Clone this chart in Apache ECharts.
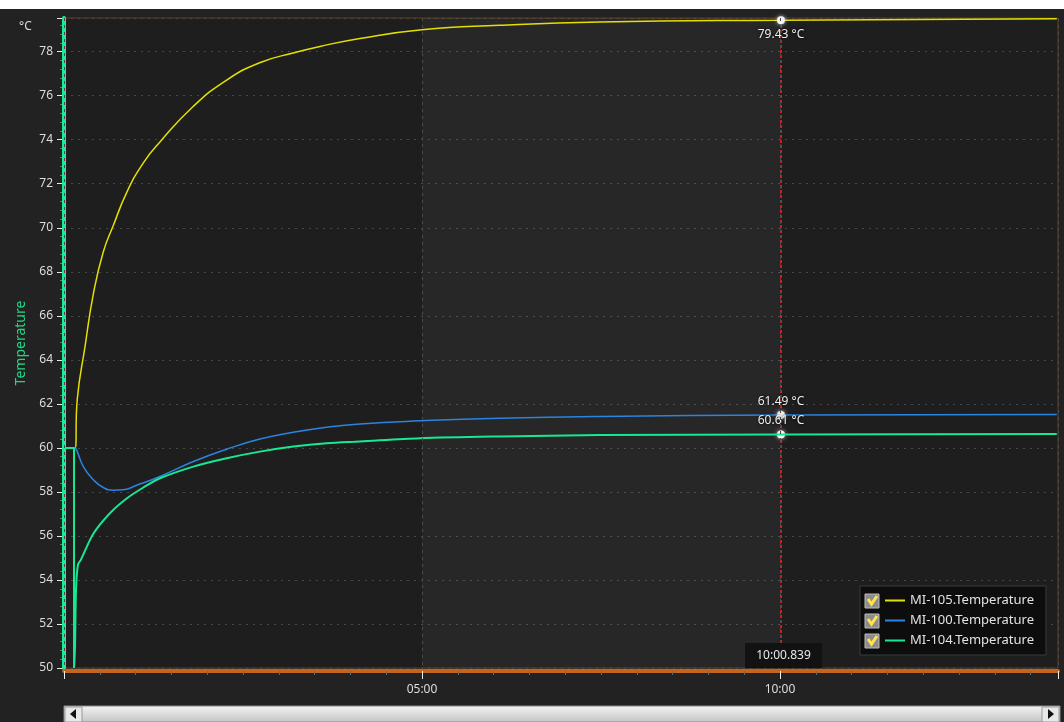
<!DOCTYPE html>
<html>
<head>
<meta charset="utf-8">
<script src="https://cdn.jsdelivr.net/npm/echarts@6/dist/echarts.min.js"></script>
<style>
  html, body { margin: 0; padding: 0; background: #ffffff; }
  #chart { width: 1064px; height: 722px; }
</style>
</head>
<body>
<div id="chart"></div>
<script>
// time in seconds, temperature in °C
var names = ["MI-105.Temperature", "MI-100.Temperature", "MI-104.Temperature"];

var yellowTime = [0, 9.2, 11.1, 17.6, 24.6, 32.9, 41.3, 52.5, 66.5, 80.4, 108, 136, 164, 192, 214.5, 248, 300, 365, 449, 600, 832];
var yellowTemp = [60, 60, 62.2, 64.6, 67.0, 68.9, 70.1, 71.6, 72.95, 73.9, 75.5, 76.7, 77.5, 77.94, 78.24, 78.6, 79.0, 79.2, 79.35, 79.43, 79.5];

var blueTime = [0, 9.2, 10.6, 16.2, 24.6, 32.9, 41.3, 49.7, 60.9, 80.4, 108.4, 136.3, 164.2, 191.9, 220.1, 248, 298.3, 365, 449, 600, 832];
var blueTemp = [60, 60, 59.9, 59.15, 58.55, 58.2, 58.08, 58.1, 58.3, 58.7, 59.38, 59.94, 60.4, 60.71, 60.94, 61.09, 61.23, 61.35, 61.43, 61.49, 61.52];

var greenTime = [0, 8.4, 8.4, 9.2, 10.1, 11.7, 14, 24.6, 38.5, 52.5, 66.5, 80.4, 108.4, 136.3, 164.2, 192.2, 220.1, 248, 298.3, 365, 449, 600, 832];
var greenTemp = [60, 60, 50, 50.9, 53.6, 54.7, 54.9, 56.1, 57.03, 57.7, 58.2, 58.62, 59.15, 59.53, 59.83, 60.06, 60.21, 60.29, 60.44, 60.52, 60.58, 60.61, 60.63];

var cursorTime = 600.839;
var cursorLabel = "10:00.839";
var cursorValues = [79.43, 61.49, 60.61];
var shadedRange = [300, 600];

var FONT = "Noto Sans";

function pairs(t, v) {
    var out = [];
    for (var i = 0; i < t.length; i++) {
        out.push([t[i], v[i]]);
    }
    return out;
}

function mmss(v) {
    var m = Math.floor(v / 60);
    var s = Math.round(v - m * 60);
    return (m < 10 ? "0" : "") + m + ":" + (s < 10 ? "0" : "") + s;
}

function cursorPoint(value, pos) {
    return {
        coord: [cursorTime, value],
        value: value,
        symbol: "circle",
        symbolSize: 8,
        itemStyle: { color: "#f2f2f2", shadowBlur: 4, shadowColor: "rgba(255,255,255,0.7)" },
        label: {
            show: true,
            position: pos,
            distance: 4,
            formatter: value.toFixed(2) + " \u00b0C",
            color: "#eeeeee",
            fontSize: 12,
            fontFamily: FONT,
            textShadowColor: "#000",
            textShadowBlur: 3
        }
    };
}

function makeSeries(i, t, v, color, width, extra) {
    var s = {
        name: names[i],
        type: "line",
        data: pairs(t, v),
        showSymbol: false,
        smooth: 0.5,
        lineStyle: { color: color, width: width },
        itemStyle: { color: color },
        z: 3 + i,
        markPoint: {
            silent: true,
            animation: false,
            data: [cursorPoint(cursorValues[i], i === 0 ? "bottom" : "top")]
        }
    };
    if (extra) {
        for (var k in extra) s[k] = extra[k];
    }
    return s;
}

var chart = echarts.init(document.getElementById("chart"));

// checkbox decorations of the legend
var boxes = [];
for (var r = 0; r < 3; r++) {
    var cy = 601 + r * 20;
    boxes.push({
        type: "rect",
        shape: { x: 865, y: cy - 7, width: 14, height: 14 },
        style: { fill: "#8c8c8c", stroke: "#bdbdbd", lineWidth: 1 },
        z: 100
    });
    boxes.push({
        type: "polyline",
        shape: { points: [[868, cy - 2], [871.5, cy + 3], [877, cy - 5]] },
        style: { stroke: "#ffe44d", lineWidth: 3, fill: null },
        z: 101
    });
}

var option = {
    animation: false,
    backgroundColor: "#222222",
    textStyle: { fontFamily: FONT },
    grid: {
        left: 64,
        right: 6,
        top: 18,
        bottom: 54,
        show: true,
        backgroundColor: "#1e1e1e",
        borderColor: "#6a3c14",
        borderWidth: 1
    },
    legend: {
        data: names,
        orient: "vertical",
        left: 860,
        top: 586,
        padding: [8, 12, 8, 25],
        itemGap: 7,
        itemWidth: 20,
        itemHeight: 2,
        icon: "rect",
        selectedMode: false,
        backgroundColor: "#0d0d0d",
        borderColor: "#3a3a3a",
        borderWidth: 1,
        textStyle: { color: "#e2e2e2", fontSize: 13, fontFamily: FONT }
    },
    xAxis: {
        type: "value",
        min: 0,
        max: 833,
        interval: 300,
        offset: 3,
        z: 10,
        axisLine: { show: true, lineStyle: { color: "#c4641e", width: 4 } },
        axisTick: { show: true, length: 8, lineStyle: { color: "#f0f0f0", width: 1 } },
        minorTick: { show: true, splitNumber: 10, length: 4, lineStyle: { color: "#6a6a6a" } },
        axisLabel: {
            color: "#dddddd",
            fontSize: 12,
            margin: 13,
            showMinLabel: false,
            showMaxLabel: false,
            formatter: function (v) { return mmss(v); }
        },
        splitLine: { show: true, lineStyle: { color: "#4a4a4a", type: [3, 4], width: 1 } },
        minorSplitLine: { show: false }
    },
    yAxis: [
        {
            type: "value",
            min: 50,
            max: 79.53,
            interval: 2,
            name: "Temperature",
            nameLocation: "middle",
            nameGap: 33,
            nameRotate: 90,
            nameTextStyle: { color: "#22d884", fontSize: 14, fontFamily: FONT },
            axisLine: { show: false },
            axisTick: { show: true, length: 7, lineStyle: { color: "#e6e6e6" } },
            minorTick: { show: true, splitNumber: 5, length: 4, lineStyle: { color: "#777777" } },
            axisLabel: {
                color: "#dddddd",
                fontSize: 12,
                margin: 11,
                showMaxLabel: false
            },
            splitLine: { show: true, lineStyle: { color: "#484848", type: [2, 5], width: 1 } }
        },
        {
            // solid green rail drawn over the tick roots
            type: "value",
            position: "left",
            min: 50,
            max: 79.53,
            z: 8,
            axisLine: { show: true, lineStyle: { color: "#1de99b", width: 4 } },
            axisTick: { show: false },
            axisLabel: { show: false },
            splitLine: { show: false }
        }
    ],
    series: [
        makeSeries(0, yellowTime, yellowTemp, "#e3e000", 1.5, {
            markArea: {
                silent: true,
                itemStyle: { color: "rgba(255,255,255,0.045)" },
                data: [[{ xAxis: shadedRange[0] }, { xAxis: shadedRange[1] }]]
            },
            markLine: {
                silent: true,
                symbol: "none",
                animation: false,
                label: { show: false },
                lineStyle: { color: "#d41c1c", type: [3, 2], width: 2 },
                data: [{ xAxis: cursorTime }]
            }
        }),
        makeSeries(1, blueTime, blueTemp, "#2a84e0", 1.5),
        makeSeries(2, greenTime, greenTemp, "#16e894", 2, {
            smooth: 0.3
        })
    ],
    graphic: [
        { type: "rect", shape: { x: 0, y: 0, width: 1064, height: 9 }, style: { fill: "#ffffff" }, z: 100 },
        { type: "text", left: 19, top: 21, style: { text: "\u00b0C", fill: "#dddddd", font: "12px " + FONT }, z: 100 },
        // time readout at the cursor
        { type: "rect", shape: { x: 745, y: 643, width: 77, height: 25 }, style: { fill: "#121212" }, z: 90 },
        { type: "text", x: 783.5, y: 655.5, style: { text: cursorLabel, fill: "#e8e8e8", font: "12px " + FONT, align: "center", verticalAlign: "middle" }, z: 91 },
        // scrollbar
        {
            type: "rect",
            shape: { x: 64, y: 706, width: 996, height: 16 },
            style: {
                fill: new echarts.graphic.LinearGradient(0, 0, 0, 1, [
                    { offset: 0, color: "#f4f4f4" },
                    { offset: 1, color: "#c4c4c4" }
                ]),
                stroke: "#888888",
                lineWidth: 1
            },
            z: 100
        },
        { type: "rect", shape: { x: 65, y: 707, width: 17, height: 15 }, style: { fill: "#e8e8e8", stroke: "#9a9a9a" }, z: 101 },
        { type: "polygon", shape: { points: [[70, 714], [76, 709], [76, 719]] }, style: { fill: "#111111" }, z: 102 },
        { type: "rect", shape: { x: 1042, y: 707, width: 17, height: 15 }, style: { fill: "#e8e8e8", stroke: "#9a9a9a" }, z: 101 },
        { type: "polygon", shape: { points: [[1054, 714], [1048, 709], [1048, 719]] }, style: { fill: "#111111" }, z: 102 }
    ].concat(boxes)
};

chart.setOption(option);
</script>
</body>
</html>
